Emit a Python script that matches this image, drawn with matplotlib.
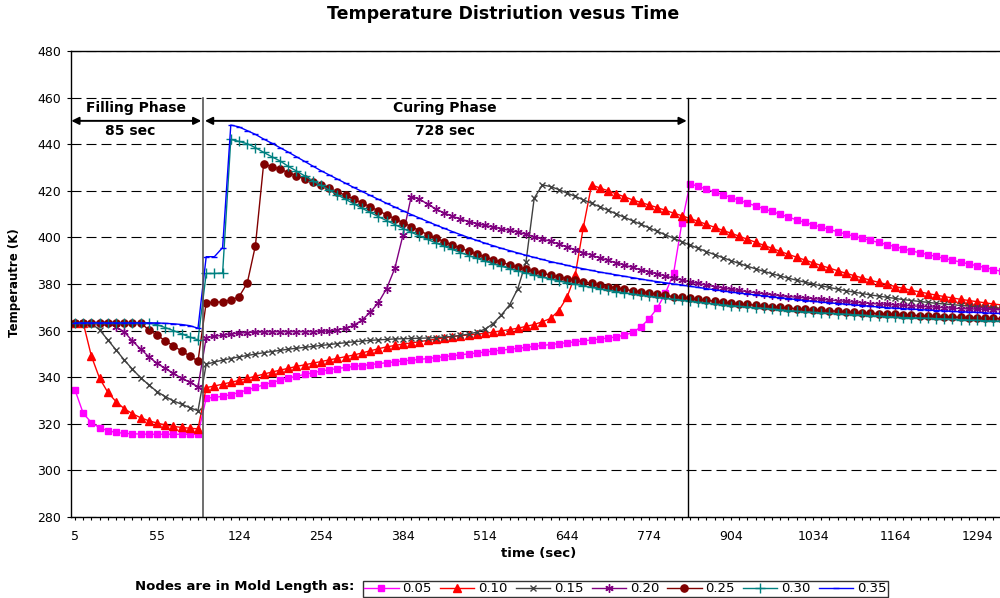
import numpy as np
import matplotlib
matplotlib.use('Agg')
import matplotlib.pyplot as plt
from matplotlib.lines import Line2D

plt.rcParams['font.family'] = ['DejaVu Sans']

# x axis is a category axis: one category per saved time step
tick_labels = ['5', '55', '124', '254', '384', '514', '644', '774', '904', '1034', '1164', '1294']
node_names = ['0.05', '0.10', '0.15', '0.20', '0.25', '0.30', '0.35']

# temperature (K) of every node
t_005 = [334.5, 324.5, 320.5, 318.3, 317.0, 316.3, 315.9, 315.7, 315.6, 315.5, 315.5, 315.5, 315.5, 315.5, 315.5, 315.5,
         331.0, 331.3, 331.8, 332.5, 333.4, 334.5, 335.6, 336.7, 337.7, 338.7, 339.6, 340.4, 341.2, 341.9,
         342.6, 343.2, 343.7, 344.2, 344.6, 345.0, 345.4, 345.8, 346.2, 346.6, 347.0, 347.3, 347.6, 348.0, 348.4, 348.8, 349.2, 349.6, 350.0, 350.4,
         350.8, 351.2, 351.6, 352.0, 352.4, 352.8, 353.2, 353.6, 354.0, 354.4, 354.8, 355.2, 355.6, 356.0, 356.4, 356.8, 357.3, 358.0, 359.2, 361.5,
         365.0, 369.6, 376.0, 384.6, 406.0, 423.0, 421.9, 420.7, 419.5, 418.3, 417.1, 415.9, 414.7, 413.5, 412.3, 411.1, 409.9, 408.7, 407.5, 406.4,
         405.4, 404.4, 403.4, 402.4, 401.4, 400.5, 399.6, 398.7, 397.8, 396.9, 396.0, 395.1, 394.2, 393.4, 392.6, 391.8, 391.0, 390.2, 389.4, 388.6, 387.8, 387.0, 386.2, 385.4]
t_010 = [363.3, 363.3, 349.0, 339.5, 333.5, 329.5, 326.5, 324.3, 322.6, 321.3, 320.3, 319.5, 318.9, 318.4, 318.1, 317.8,
         335.5, 336.2, 337.0, 337.8, 338.6, 339.5, 340.4, 341.3, 342.2, 343.0, 343.8, 344.6, 345.3, 346.0,
         346.7, 347.4, 348.1, 348.8, 349.5, 350.4, 351.3, 352.2, 353.0, 353.6, 354.2, 354.7, 355.2, 355.8, 356.3, 356.9, 357.4, 357.8, 358.1, 358.5,
         358.8, 359.3, 359.9, 360.4, 361.0, 361.8, 362.6, 363.8, 365.2, 368.6, 374.3, 383.8, 404.5, 422.5, 421.2, 420.0, 418.7, 417.4, 416.1, 415.0,
         413.9, 412.8, 411.6, 410.4, 409.3, 408.1, 406.9, 405.6, 404.3, 403.0, 401.8, 400.5, 399.2, 397.9, 396.6, 395.3, 394.0, 392.7, 391.5, 390.3,
         389.1, 387.9, 386.8, 385.7, 384.6, 383.6, 382.6, 381.6, 380.7, 379.8, 378.9, 378.1, 377.3, 376.6, 375.9, 375.2, 374.6, 374.0, 373.4, 372.9, 372.4, 371.9, 371.4, 371.0]
t_015 = [363.3, 363.3, 363.0, 360.3, 356.0, 351.7, 347.4, 343.4, 339.8, 336.7, 333.8, 331.7, 329.8, 328.4, 326.9, 325.6,
         345.5, 346.5, 347.3, 348.0, 348.7, 349.3, 349.9, 350.5, 351.0, 351.5, 352.0, 352.4, 352.8, 353.2,
         353.6, 354.0, 354.4, 354.8, 355.2, 355.5, 355.8, 356.0, 356.2, 356.4, 356.5, 356.6, 356.7, 356.8, 357.0, 357.2, 357.5, 357.9, 358.5, 359.3,
         360.6, 363.0, 366.7, 371.0, 378.0, 389.5, 416.8, 422.5, 421.8, 420.5, 419.0, 417.6, 416.1, 414.6, 413.1, 411.6, 410.1, 408.6, 407.1, 405.6,
         404.1, 402.6, 401.1, 399.6, 398.1, 396.7, 395.3, 393.9, 392.6, 391.3, 390.0, 388.8, 387.6, 386.5, 385.4, 384.4, 383.4, 382.5, 381.6, 380.8,
         380.0, 379.2, 378.5, 377.8, 377.1, 376.5, 375.9, 375.3, 374.8, 374.3, 373.8, 373.3, 372.9, 372.5, 372.1, 371.7, 371.4, 371.1, 370.8, 370.5, 370.2, 370.0, 369.8, 369.6]
t_020 = [363.3, 363.3, 363.3, 363.3, 363.3, 361.5, 359.5, 355.5, 352.1, 348.8, 345.9, 343.8, 341.6, 339.5, 337.8, 335.9,
         357.0, 357.5, 358.0, 358.5, 358.9, 359.1, 359.3, 359.4, 359.5, 359.5, 359.5, 359.5, 359.5, 359.5,
         359.6, 359.9, 360.3, 361.0, 362.3, 364.5, 367.8, 372.0, 378.0, 386.7, 401.0, 417.5, 416.4, 414.3, 412.2, 410.5, 409.1, 407.9, 406.8, 405.9,
         405.1, 404.4, 403.7, 403.0, 402.3, 401.3, 400.3, 399.3, 398.3, 397.1, 395.9, 394.7, 393.5, 392.3, 391.2, 390.1, 389.1, 388.1, 387.1, 386.1,
         385.2, 384.3, 383.4, 382.5, 381.7, 380.9, 380.2, 379.5, 378.9, 378.3, 377.7, 377.2, 376.7, 376.2, 375.8, 375.4, 375.0, 374.6, 374.3, 374.0,
         373.7, 373.4, 373.1, 372.8, 372.5, 372.2, 371.9, 371.6, 371.4, 371.2, 371.0, 370.8, 370.6, 370.4, 370.2, 370.0, 369.8, 369.6, 369.4, 369.3, 369.2, 369.1, 369.0, 368.9]
t_025 = [363.3, 363.3, 363.3, 363.3, 363.3, 363.3, 363.3, 363.3, 363.3, 360.3, 358.1, 355.6, 353.5, 351.2, 349.1, 346.9,
         372.0, 372.1, 372.4, 373.1, 374.5, 380.3, 396.4, 431.4, 430.4, 429.3, 427.8, 426.4, 425.0, 423.9,
         422.5, 421.0, 419.5, 418.0, 416.4, 414.8, 413.1, 411.4, 409.7, 408.0, 406.3, 404.6, 402.9, 401.2, 399.7, 398.2, 396.8, 395.4, 394.1, 392.8,
         391.6, 390.4, 389.3, 388.2, 387.2, 386.3, 385.4, 384.6, 383.8, 383.0, 382.3, 381.6, 380.9, 380.2, 379.5, 378.9, 378.3, 377.7, 377.1, 376.6,
         376.1, 375.6, 375.1, 374.6, 374.2, 373.8, 373.4, 373.0, 372.6, 372.2, 371.8, 371.5, 371.2, 370.9, 370.6, 370.3, 370.0, 369.7, 369.4, 369.1,
         368.9, 368.7, 368.5, 368.3, 368.1, 367.9, 367.7, 367.5, 367.3, 367.1, 366.9, 366.8, 366.6, 366.4, 366.3, 366.1, 366.0, 365.8, 365.7, 365.6, 365.4, 365.3, 365.2, 365.1]
t_030 = [363.3, 363.3, 363.3, 363.3, 363.3, 363.3, 363.3, 363.3, 363.3, 363.3, 362.5, 361.3, 360.0, 358.6, 357.2, 356.0,
         384.5, 384.5, 384.7, 442.0, 441.2, 440.2, 438.5, 436.5, 434.6, 432.8, 430.5, 428.5, 426.4, 424.3,
         422.3, 420.3, 418.3, 416.3, 414.4, 412.5, 410.7, 408.9, 407.2, 405.5, 403.8, 402.2, 400.6, 399.1, 397.6, 396.2, 394.8, 393.5, 392.2, 391.0,
         389.8, 388.7, 387.6, 386.6, 385.6, 384.7, 383.8, 382.9, 382.1, 381.3, 380.6, 379.9, 379.2, 378.5, 377.9, 377.3, 376.7, 376.2, 375.7, 375.2,
         374.7, 374.2, 373.8, 373.4, 373.0, 372.6, 372.2, 371.8, 371.4, 371.0, 370.7, 370.4, 370.1, 369.8, 369.5, 369.2, 368.9, 368.6, 368.3, 368.0,
         367.8, 367.6, 367.4, 367.2, 367.0, 366.8, 366.6, 366.4, 366.2, 366.0, 365.8, 365.6, 365.5, 365.4, 365.3, 365.1, 365.0, 364.8, 364.7, 364.5, 364.4, 364.2, 364.1, 364.0]
t_035 = [363.3, 363.3, 363.3, 363.3, 363.3, 363.3, 363.3, 363.3, 363.3, 363.3, 363.3, 363.1, 362.9, 362.6, 362.1, 361.0,
         391.7, 391.7, 395.6, 448.2, 447.4, 445.8, 444.2, 442.2, 440.4, 438.5, 436.6, 434.6, 432.6, 430.6,
         428.6, 426.8, 425.0, 423.2, 421.4, 419.7, 418.0, 416.3, 414.6, 413.0, 411.4, 409.8, 408.3, 406.8, 405.3, 403.9, 402.5, 401.2, 399.9, 398.7,
         397.5, 396.4, 395.3, 394.3, 393.3, 392.3, 391.4, 390.5, 389.6, 388.8, 388.0, 387.2, 386.5, 385.8, 385.1, 384.5, 383.9, 383.3, 382.7, 382.1,
         381.5, 381.0, 380.5, 380.0, 379.5, 379.0, 378.5, 378.0, 377.5, 377.0, 376.5, 376.1, 375.7, 375.3, 374.9, 374.5, 374.1, 373.7, 373.3, 372.9,
         372.5, 372.2, 371.9, 371.6, 371.3, 371.0, 370.7, 370.4, 370.1, 369.8, 369.6, 369.4, 369.2, 369.0, 368.8, 368.6, 368.4, 368.2, 368.0, 367.9, 367.8, 367.6, 367.4, 367.3]

series = [t_005, t_010, t_015, t_020, t_025, t_030, t_035]
colors = ['#FF00FF', '#FF0000', '#404040', '#800080', '#800000', '#008080', '#0000FF']
markers = ['s', '^', 'x', (6, 2, 0), 'o', '+', '_']
msizes = [4.8, 5.3, 5.0, 6.0, 5.2, 6.5, 4.5]

fig = plt.figure(figsize=(10, 5.98), dpi=100)
ax = fig.add_axes([0.0709, 0.1355, 0.9348, 0.7793])

x = np.arange(len(t_005))
for vals, c, m, ms in zip(series, colors, markers, msizes):
    ax.plot(x, vals, color=c, lw=1.0, marker=m, ms=ms, mfc=c, mec=c, mew=1.0)

ax.set_xlim(-0.5, len(x) - 0.5)
ax.set_ylim(280, 480)
ax.set_yticks(np.arange(280, 481, 20))
ax.set_xticks(x)
ax.set_xticklabels([tick_labels[i // 10] if i % 10 == 0 else '' for i in x])
ax.tick_params(axis='x', length=2.5, width=0.8, labelsize=9, pad=7)
ax.tick_params(axis='y', length=3, width=0.8, labelsize=9, pad=4)
ax.yaxis.grid(True, linestyle=(0, (9, 4.5)), color='black', lw=0.8)
for s in ax.spines.values():
    s.set_linewidth(1.0)

# phase markers
ax.plot([15.6, 15.6], [460, 280], color='#555555', lw=1.2)
ax.plot([74.8, 74.8], [460, 280], color='black', lw=1.0)
arrow = dict(arrowstyle='<|-|>', color='black', lw=1.4, mutation_scale=11, shrinkA=0, shrinkB=0)
ax.annotate('', xy=(-0.45, 450), xytext=(15.4, 450), arrowprops=arrow)
ax.annotate('', xy=(15.85, 450), xytext=(74.6, 450), arrowprops=arrow)
ax.text(7.5, 455.5, 'Filling Phase', ha='center', va='center', fontsize=10, fontweight='bold')
ax.text(6.7, 445.6, '85 sec', ha='center', va='center', fontsize=10, fontweight='bold')
ax.text(45.1, 455.5, 'Curing Phase', ha='center', va='center', fontsize=10, fontweight='bold')
ax.text(45.1, 445.6, '728 sec', ha='center', va='center', fontsize=10, fontweight='bold')

fig.text(0.503, 0.977, 'Temperature Distriution vesus Time', ha='center', va='center',
         fontsize=12.5, fontweight='bold')
fig.text(0.015, 0.527, 'Temperautre (K)', rotation=90, ha='center', va='center',
         fontsize=8.5, fontweight='bold')
fig.text(0.539, 0.075, 'time (sec)', ha='center', va='center', fontsize=9.5, fontweight='bold')

handles = [Line2D([], [], color=c, lw=1.0, marker=m, ms=ms, mfc=c, mec=c, mew=1.0)
           for c, m, ms in zip(colors, markers, msizes)]
fig.text(0.354, 0.019, 'Nodes are in Mold Length as:', ha='right', va='center',
         fontsize=9.5, fontweight='bold')
leg = fig.legend(handles, node_names, loc='lower left', bbox_to_anchor=(0.363, 0.002, 0.525, 0.033),
                 mode='expand', ncol=7, fontsize=9.5, frameon=True, fancybox=False,
                 handlelength=2.6, handletextpad=0.3, columnspacing=0.5, borderpad=0.1,
                 borderaxespad=0)
leg.get_frame().set_edgecolor('black')
leg.get_frame().set_linewidth(1.0)

fig.savefig('out.png', dpi=100)
